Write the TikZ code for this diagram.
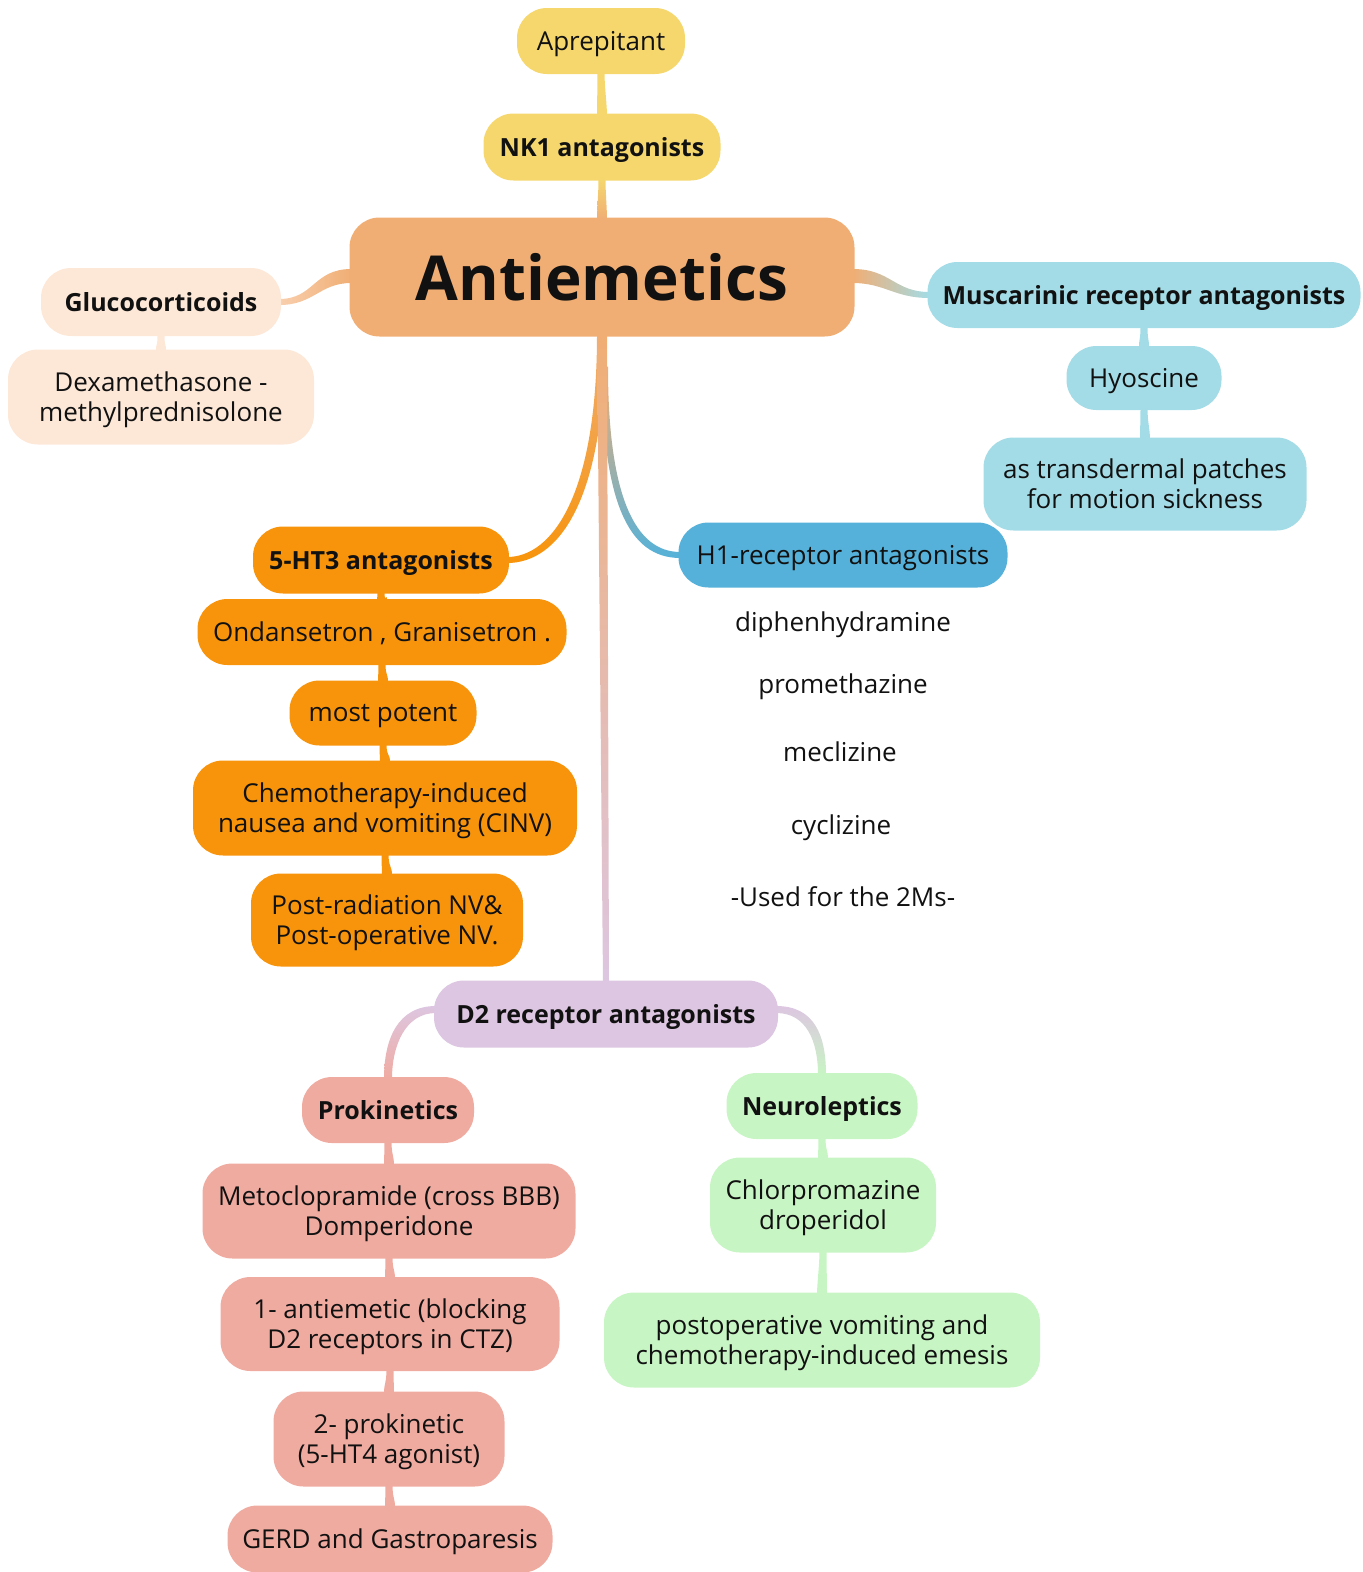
\documentclass[tikz,border=0pt]{standalone}
\usepackage{fontspec}
\setmainfont{Open Sans}
\usetikzlibrary{calc}
\pgfdeclarelayer{background}
\pgfsetlayers{background,main}
\definecolor{yel}{HTML}{F5D76E}
\definecolor{antc}{HTML}{F0AE74}
\definecolor{glu}{HTML}{FDE8D8}
\definecolor{gluline}{HTML}{F9CFAE}
\definecolor{cya}{HTML}{A3DCE6}
\definecolor{blu}{HTML}{55B1D9}
\definecolor{ora}{HTML}{F7940B}
\definecolor{oraline}{HTML}{F5A04A}
\definecolor{lav}{HTML}{DDC6E1}
\definecolor{sal}{HTML}{F0ABA1}
\definecolor{grn}{HTML}{C8F5C4}
\definecolor{txt}{HTML}{111111}
\newcommand\fsz{\fontsize{26}{30}\selectfont}
\newcommand\fszb{\fontsize{25}{30}\selectfont\bfseries}
\newcommand\mmstub[3]{\path[#3] ($(#1.south)+(-3.5,-2)$) -- ($(#1.south)+(3.5,-2)$) .. controls +(0,14) and +(0,-10) .. ($(#2.north)+(5,2)$) -- ($(#2.north)+(-5,2)$) .. controls +(0,-10) and +(0,14) .. ($(#1.south)+(-3.5,-2)$) -- cycle;}
\tikzset{
  box/.style={rounded corners=30pt, inner sep=0pt, align=center, font=\fsz, text=txt, text depth=0pt},
  head/.style={box, font=\fszb},
  plain/.style={inner sep=0pt, align=center, font=\fsz, text=txt, text depth=0pt},
}
\begin{document}
\begin{tikzpicture}[x=1pt,y=-1pt]
\useasboundingbox (0,0) rectangle (1363,1572);
\node[box, fill=yel, minimum width=168, minimum height=66] (apr) at (601,41) {Aprepitant};
\node[head, fill=yel, minimum width=237, minimum height=67] (nk1) at (602,147) {NK1 antagonists};
\node[box, fill=antc, minimum width=505, minimum height=119, font=\fontsize{62}{70}\selectfont\bfseries] (ant) at (602,277) {Antiemetics};
\node[head, fill=glu, minimum width=240, minimum height=68] (gluc) at (161,302) {Glucocorticoids};
\node[box, fill=glu, minimum width=306, minimum height=95] (dexa) at (161,397) {Dexamethasone -\\methylprednisolone};
\node[head, fill=cya, minimum width=433, minimum height=66] (musc) at (1144,295) {Muscarinic receptor antagonists};
\node[box, fill=cya, minimum width=155, minimum height=64] (hyo) at (1144,378) {Hyoscine};
\node[box, fill=cya, minimum width=323, minimum height=93] (trans) at (1145,484) {as transdermal patches\\for motion sickness};
\node[box, fill=blu, minimum width=329, minimum height=65] (h1) at (843,555) {H1-receptor antagonists};
\node[plain] (t1) at (843,622) {diphenhydramine};
\node[plain] (t2) at (843,684) {promethazine};
\node[plain] (t3) at (840,752) {meclizine};
\node[plain] (t4) at (841,825) {cyclizine};
\node[plain] (t5) at (843,897) {-Used for the 2Ms-};
\node[head, fill=ora, minimum width=256, minimum height=67] (ht3) at (381,560) {5-HT3 antagonists};
\node[box, fill=ora, minimum width=369, minimum height=66] (ond) at (382,632) {Ondansetron , Granisetron .};
\node[box, fill=ora, minimum width=187, minimum height=65] (pot) at (383,713) {most potent};
\node[box, fill=ora, minimum width=384, minimum height=95] (chemo) at (385,808) {Chemotherapy-induced\\nausea and vomiting (CINV)};
\node[box, fill=ora, minimum width=272, minimum height=93] (post) at (387,920) {Post-radiation NV\&\\Post-operative NV.};
\node[head, fill=lav, minimum width=344, minimum height=67] (d2) at (606,1014) {D2 receptor antagonists};
\node[head, fill=sal, minimum width=172, minimum height=66] (prok) at (388,1110) {Prokinetics};
\node[box, fill=sal, minimum width=373, minimum height=95] (meto) at (389,1211) {Metoclopramide (cross BBB)\\Domperidone};
\node[box, fill=sal, minimum width=339, minimum height=94] (anti1) at (390,1324) {1- antiemetic (blocking\\D2 receptors in CTZ)};
\node[box, fill=sal, minimum width=231, minimum height=95] (pro2) at (389,1439) {2- prokinetic\\(5-HT4 agonist)};
\node[box, fill=sal, minimum width=325, minimum height=67] (gerd) at (390,1539) {GERD and Gastroparesis};
\node[head, fill=grn, minimum width=191, minimum height=66] (neuro) at (822,1106) {Neuroleptics};
\node[box, fill=grn, minimum width=226, minimum height=95] (chlor) at (823,1205) {Chlorpromazine\\droperidol};
\node[box, fill=grn, minimum width=436, minimum height=95] (pov) at (822,1340) {postoperative vomiting and\\chemotherapy-induced emesis};

\begin{pgfonlayer}{background}
% stubs
\mmstub{apr}{nk1}{fill=yel}
\mmstub{nk1}{ant}{top color=yel, bottom color=antc}
\mmstub{gluc}{dexa}{fill=glu}
\mmstub{musc}{hyo}{fill=cya}
\mmstub{hyo}{trans}{fill=cya}
\mmstub{ht3}{ond}{fill=ora}
\mmstub{ond}{pot}{fill=ora}
\mmstub{pot}{chemo}{fill=ora}
\mmstub{chemo}{post}{fill=ora}
\mmstub{prok}{meto}{fill=sal}
\mmstub{meto}{anti1}{fill=sal}
\mmstub{anti1}{pro2}{fill=sal}
\mmstub{pro2}{gerd}{fill=sal}
\mmstub{neuro}{chlor}{fill=grn}
\mmstub{chlor}{pov}{fill=grn}
% Antiemetics -> Glucocorticoids
\shade[left color=gluline, right color=antc]
  ($(ant.west)+(2,-8)$) .. controls +(-38,0) and +(35,0) .. ($(gluc.east)+(-2,-3)$)
  -- ($(gluc.east)+(-2,3)$) .. controls +(35,0) and +(-32,0) .. ($(ant.west)+(2,6)$) -- cycle;
% Antiemetics -> Muscarinic
\shade[left color=antc, right color=cya]
  ($(ant.east)+(-2,-8)$) .. controls +(38,0) and +(-35,0) .. ($(musc.west)+(2,-3)$)
  -- ($(musc.west)+(2,3)$) .. controls +(-35,0) and +(32,0) .. ($(ant.east)+(-2,6)$) -- cycle;
% Antiemetics -> 5-HT3
\shade[top color=antc, bottom color=ora]
  ($(ant.south)+(-5,-2)$) .. controls +(0,160) and +(45,0) .. ($(ht3.east)+(-2,-3)$)
  -- ($(ht3.east)+(-2,3)$) .. controls +(52,0) and +(0,165) .. ($(ant.south)+(3,-2)$) -- cycle;
% Antiemetics -> H1
\shade[top color=antc, bottom color=blu]
  ($(ant.south)+(6,30)$) .. controls +(0,130) and +(-45,0) .. ($(h1.west)+(2,-3)$)
  -- ($(h1.west)+(2,3)$) .. controls +(-52,0) and +(0,135) .. ($(ant.south)+(0,30)$) -- cycle;
% Antiemetics -> D2
\shade[top color=antc, bottom color=lav]
  ($(ant.south)+(-5,-2)$) -- ($(ant.south)+(5,-2)$) -- ($(d2.north)+(3,2)$) -- ($(d2.north)+(-3,2)$) -- cycle;
% D2 -> Prokinetics
\shade[top color=lav, bottom color=sal]
  ($(d2.west)+(2,-8)$) .. controls +(-38,0) and +(0,-40) .. ($(prok.north)+(-4,2)$)
  -- ($(prok.north)+(4,2)$) .. controls +(0,-34) and +(-30,0) .. ($(d2.west)+(2,-1)$) -- cycle;
% D2 -> Neuroleptics
\shade[top color=lav, bottom color=grn]
  ($(d2.east)+(-2,-8)$) .. controls +(38,0) and +(0,-40) .. ($(neuro.north)+(4,2)$)
  -- ($(neuro.north)+(-4,2)$) .. controls +(0,-34) and +(30,0) .. ($(d2.east)+(-2,-1)$) -- cycle;
\end{pgfonlayer}
\end{tikzpicture}
\end{document}
